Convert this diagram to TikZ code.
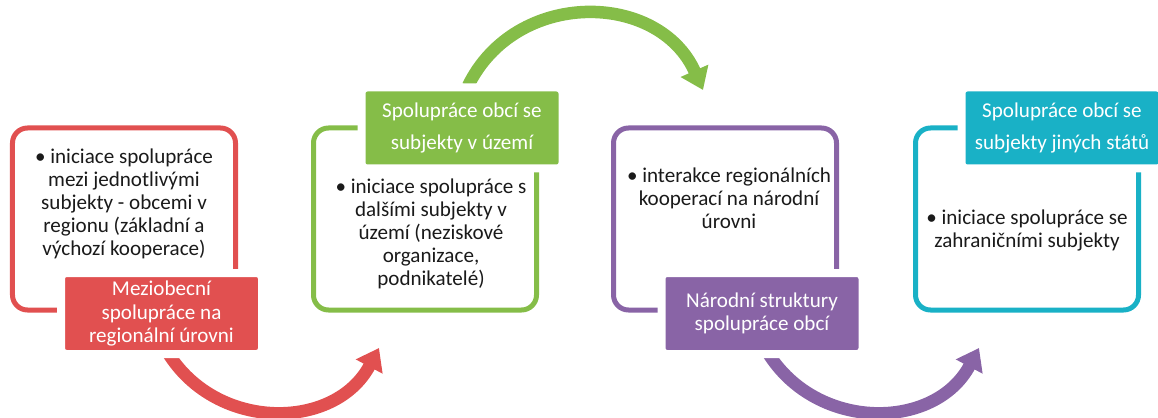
\documentclass[tikz,border=0pt]{standalone}
\usepackage{fontspec}
\setmainfont{Carlito}
\usetikzlibrary{arrows.meta}
\definecolor{mcred}{HTML}{E15050}
\definecolor{mcgreen}{HTML}{85BD48}
\definecolor{mcpurple}{HTML}{8964A6}
\definecolor{mccyan}{HTML}{19B1C6}
\definecolor{mcink}{HTML}{1A1A1A}
\tikzset{
  frame/.style={rectangle,rounded corners=3mm,draw=#1,line width=1mm,minimum width=4.46cm,minimum height=3.64cm},
  tag/.style={rectangle,rounded corners=1mm,fill=#1,draw=white,line width=1.6mm,minimum width=4.02cm,minimum height=1.62cm,
    text=white,align=center,inner sep=0pt,font=\fontsize{12}{13.4}\selectfont},
  toptag/.style={tag=#1,font=\fontsize{12}{18.5}\selectfont},
  body/.style={align=center,text=mcink,inner sep=0pt,font=\fontsize{12}{13.1}\selectfont},
  flow/.style={-{Triangle[length=4.2mm,width=5.8mm]},draw=#1,line width=2.5mm},
}
\begin{document}
\begin{tikzpicture}
  \useasboundingbox (0,0) rectangle (23.16,8.34);
  % outline boxes
  \node[frame=mcred] (b1) at (2.48,3.96) {};
  \node[frame=mcgreen] (b2) at (8.50,3.96) {};
  \node[frame=mcpurple] (b3) at (14.50,3.96) {};
  \node[frame=mccyan] (b4) at (20.54,3.96) {};
  % curved arrows
  \coordinate (a1s) at (3.36,1.28);
  \coordinate (a1e) at (7.58,1.38);
  \coordinate (a2s) at (9.36,6.62);
  \coordinate (a2e) at (14.06,6.54);
  \coordinate (a3s) at (15.36,1.28);
  \coordinate (a3e) at (19.58,1.38);
  \draw[flow=mcred] (a1s) to[out=-58,in=-118,looseness=1.13] (a1e);
  \draw[flow=mcgreen] (a2s) to[out=64,in=114,looseness=1.18] (a2e);
  \draw[flow=mcpurple] (a3s) to[out=-58,in=-118,looseness=1.13] (a3e);
  % level tags
  \node[tag=mcred] (l1) at (3.23,2.07) {Meziobecní\\spolupráce na\\regionální úrovni};
  \node[toptag=mcgreen] (l2) at (9.24,5.78) {Spolupráce obcí se\\subjekty v území};
  \node[tag=mcpurple] (l3) at (15.24,2.07) {Národní struktury\\spolupráce obcí};
  \node[toptag=mccyan] (l4) at (21.24,5.78) {Spolupráce obcí se\\subjekty jiných států};
  % bullet texts
  \node[body] (t1) at (2.48,4.27) {• iniciace spolupráce\\mezi jednotlivými\\subjekty - obcemi v\\regionu (základní a\\výchozí kooperace)};
  \node[body] (t2) at (8.62,3.67) {• iniciace spolupráce s\\dalšími subjekty v\\území (neziskové\\organizace,\\podnikatelé)};
  \node[body] (t3) at (14.58,4.38) {• interakce regionálních\\kooperací na národní\\úrovni};
  \node[body] (t4) at (20.54,3.74) {• iniciace spolupráce se\\zahraničními subjekty};
\end{tikzpicture}
\end{document}
